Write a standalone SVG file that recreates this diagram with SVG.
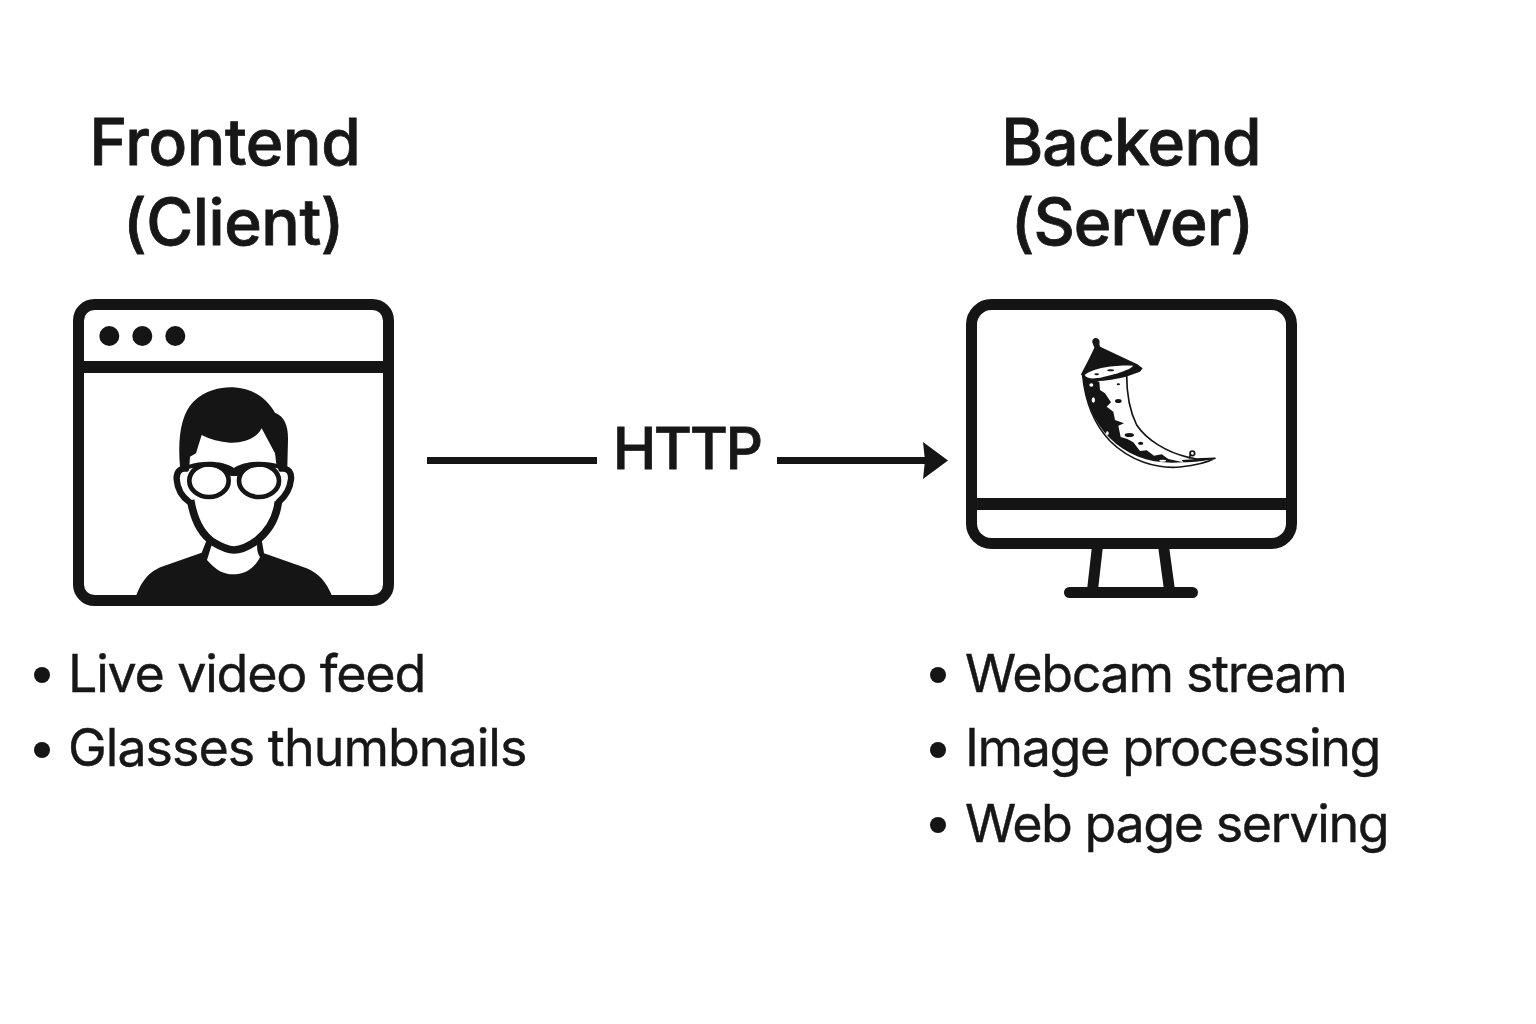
<svg xmlns="http://www.w3.org/2000/svg" width="1536" height="1024" viewBox="0 0 1536 1024">
<style>
.t{font-family:Inter,"Liberation Sans",sans-serif;fill:#171717;stroke:#171717}
.h{font-size:64px;font-weight:500;text-anchor:middle;stroke-width:.8}
.b{font-size:52px;font-weight:400;stroke-width:.4}
.k{fill:#151515}
.o{fill:none;stroke:#151515;stroke-linecap:round;stroke-linejoin:round}
.w{fill:#fff}
</style>
<rect width="1536" height="1024" fill="#fff"/>
<g id="frontend">
<text class="t h" x="225" y="165" letter-spacing="-.3">Frontend</text>
<text class="t h" x="233.500" y="245" letter-spacing="-.4">(Client)</text>
<rect x="78.500" y="304.500" width="310" height="296" rx="16" fill="#fff" stroke="#151515" stroke-width="11"/>
<rect class="k" x="79" y="361" width="309" height="12"/>
<circle class="k" cx="109.300" cy="336" r="10"/>
<circle class="k" cx="142.300" cy="336" r="10"/>
<circle class="k" cx="175.300" cy="336" r="10"/>
<g transform="translate(60 290) scale(.33333)">
<path class="k" d="M226 925C245 865 275 842 305 830L425 788L440 750H605L612 790L740 835C775 850 800 875 819 925Z"/>
<path class="w" d="M455 765L441 810C470 842 490 853 520 853C550 853 580 840 600 802C592 790 590 775 592 760Z"/>
<path d="M392 625C400 680 420 730 460 757C490 775 505 780 522 780C545 780 565 770 590 752C630 720 650 680 655 635V500H392Z" fill="#fff"/>
<path class="k" d="M360 530C352 440 365 370 400 335C440 297 490 290 520 292C580 295 620 325 645 368C675 380 685 410 684 450L682 530L650 530L645 490L605 415C590 445 550 460 510 458C480 456 450 448 425 435L408 490L390 500L388 530Z"/>
<path d="M392 630C400 680 420 730 460 757C490 775 505 780 522 780C545 780 565 770 590 752C630 720 650 680 655 635" fill="none" stroke="#151515" stroke-width="23"/>
<path class="o" stroke-width="19" d="M378 536C358 534 349 548 350 568C352 595 365 620 388 636M664 536C686 534 695 548 693 568C690 595 675 620 656 636"/>
<ellipse cx="447" cy="572" rx="59" ry="49" fill="none" stroke="#151515" stroke-width="14"/>
<ellipse cx="597" cy="572" rx="60" ry="49" fill="none" stroke="#151515" stroke-width="14"/>
<path class="k" d="M385 525C430 510 490 512 522 534C555 512 615 510 660 525V537C615 523 560 528 532 558H512C485 528 430 523 385 537Z"/>
</g>
</g>
<g id="connectors">
<path class="k" d="M427 457H597V464H427ZM777 457H928V464H777Z"/>
<path class="k" d="M948 460.500L923 442L925 460.500L923 479Z"/>
<text class="t" x="687" y="469" font-size="58" font-weight="500" text-anchor="middle" letter-spacing="-2" stroke-width=".8">HTTP</text>
</g>
<g id="backend">
<text class="t h" x="1131" y="165" letter-spacing="-.8">Backend</text>
<text class="t h" x="1132" y="245" letter-spacing="-.9">(Server)</text>
<path class="k" d="M1092 546H1103L1098 590H1087ZM1158 546H1169L1175 590H1164Z"/>
<rect class="k" x="1064" y="587" width="134" height="11" rx="5.500"/>
<rect x="971.500" y="304.500" width="320" height="239" rx="20" fill="#fff" stroke="#151515" stroke-width="11"/>
<rect class="k" x="972" y="498" width="319" height="12"/>
<g transform="translate(1050 325) scale(.33333)">
<path d="M98 150C105 225 130 295 180 348C240 408 320 432 390 426C430 422 470 414 495 400L440 402L415 397C350 382 290 345 260 300C240 260 230 210 230 150Z" fill="#fff" stroke="#151515" stroke-width="5" stroke-linejoin="round"/>
<path class="k" d="M98 155C105 225 130 290 180 340C235 395 310 420 400 412L355 402L335 388L312 392L290 376L270 378L250 352L232 342L212 336L205 302L222 295L195 285L190 260L170 245L183 232L165 205L150 195L148 170Z"/>
<path class="k" d="M400 412C430 412 470 408 495 400L440 402L395 405Z"/>
<ellipse class="k" cx="205" cy="228" rx="10" ry="6"/>
<ellipse class="k" cx="205" cy="178" rx="5" ry="3"/>
<ellipse class="k" cx="238" cy="330" rx="14" ry="6"/>
<ellipse class="k" cx="272" cy="355" rx="8" ry="5"/>
<ellipse class="w" cx="124" cy="180" rx="6" ry="5"/>
<ellipse class="w" cx="130" cy="225" rx="5" ry="8"/>
<ellipse class="w" cx="172" cy="325" rx="4" ry="6"/>
<ellipse class="w" cx="338" cy="407" rx="10" ry="3"/>
<path class="k" d="M93 148L118 100L133 68L128 55C122 42 140 32 148 46C150 55 146 60 152 66L262 118L278 130L270 140L228 155C190 165 125 175 102 162Z"/>
<path class="w" d="M104 150C125 130 195 118 250 122C240 135 200 146 160 156C130 163 110 162 104 150Z"/>
<ellipse class="k" cx="140" cy="148" rx="7" ry="3"/>
<ellipse class="k" cx="182" cy="136" rx="10" ry="3"/>
<circle cx="427" cy="385" r="7" fill="#fff" stroke="#151515" stroke-width="5"/>
<path class="o" stroke-width="5" d="M418 398L422 388"/>
</g>
</g>
<g id="frontend-features">
<circle class="k" cx="42" cy="675" r="8"/>
<circle class="k" cx="42" cy="750" r="8"/>
<text class="t b" x="68" y="692" letter-spacing="-1.200">Live video feed</text>
<text class="t b" x="68" y="766" letter-spacing="-1">Glasses thumbnails</text>
</g>
<g id="backend-features">
<circle class="k" cx="938" cy="675" r="8"/>
<circle class="k" cx="938" cy="750" r="8"/>
<circle class="k" cx="938" cy="825" r="8"/>
<text class="t b" x="965" y="692" letter-spacing="-1.350">Webcam stream</text>
<text class="t b" x="965" y="766" letter-spacing="-1.400">Image processing</text>
<text class="t b" x="965" y="842" letter-spacing="-1.450">Web page serving</text>
</g>
</svg>
